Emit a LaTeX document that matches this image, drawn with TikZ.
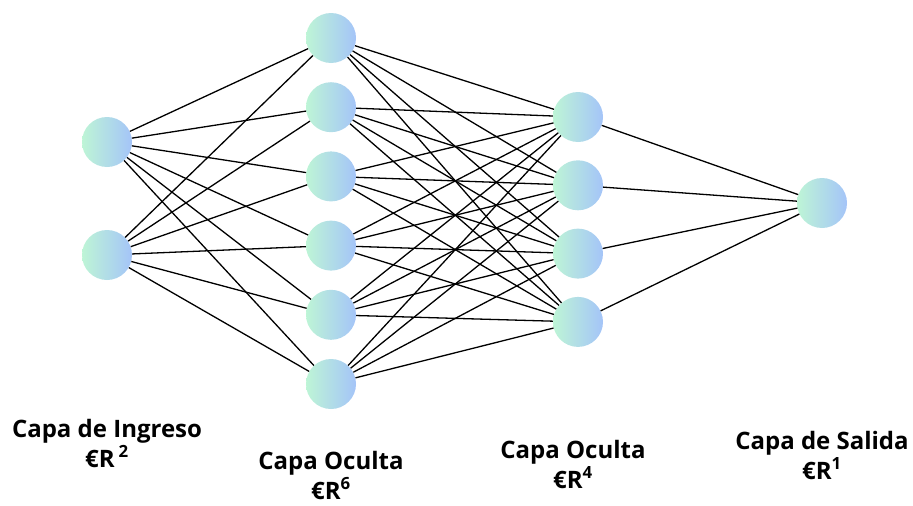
\documentclass[tikz,border=0pt]{standalone}
\usepackage{fontspec}
\setmainfont{Open Sans}
\definecolor{mint}{RGB}{190,245,214}
\definecolor{skyb}{RGB}{164,196,248}
\begin{document}
\begin{tikzpicture}[x=1pt,y=-1pt,
    font=\fontsize{24}{30}\selectfont\bfseries,
    neuron/.style={circle,minimum size=50pt,inner sep=0pt,left color=mint,right color=skyb},
    link/.style={black,line width=1.3pt},
    layer/.style={align=center,inner sep=0pt}]
  \useasboundingbox (0,0) rectangle (913,506);

  % neurons of each layer
  \foreach \i/\y in {1/142,2/255}
    \node[neuron] (in\i) at (107,\y) {};
  \foreach \i in {1,...,6}
    \node[neuron] (ha\i) at (331,{38+69.2*(\i-1)}) {};
  \foreach \i in {1,...,4}
    \node[neuron] (hb\i) at (578,{117+68.3*(\i-1)}) {};
  \node[neuron] (out) at (822,203) {};

  % full connections between neighbouring layers
  \foreach \i in {1,2}
    \foreach \j in {1,...,6}
      \draw[link] (in\i) -- (ha\j);
  \foreach \i in {1,...,6}
    \foreach \j in {1,...,4}
      \draw[link] (ha\i) -- (hb\j);
  \foreach \j in {1,...,4}
    \draw[link] (hb\j) -- (out);

  % layer names
  \node[layer] (lin) at (107,443) {Capa de Ingreso\\€R\,\textsuperscript{2}};
  \node[layer] (lha) at (331,475) {Capa Oculta\\€R\textsuperscript{6}};
  \node[layer] (lhb) at (573,464) {Capa Oculta\\€R\textsuperscript{4}};
  \node[layer] (lout) at (822,455) {Capa de Salida\\€R\textsuperscript{1}};
\end{tikzpicture}
\end{document}
